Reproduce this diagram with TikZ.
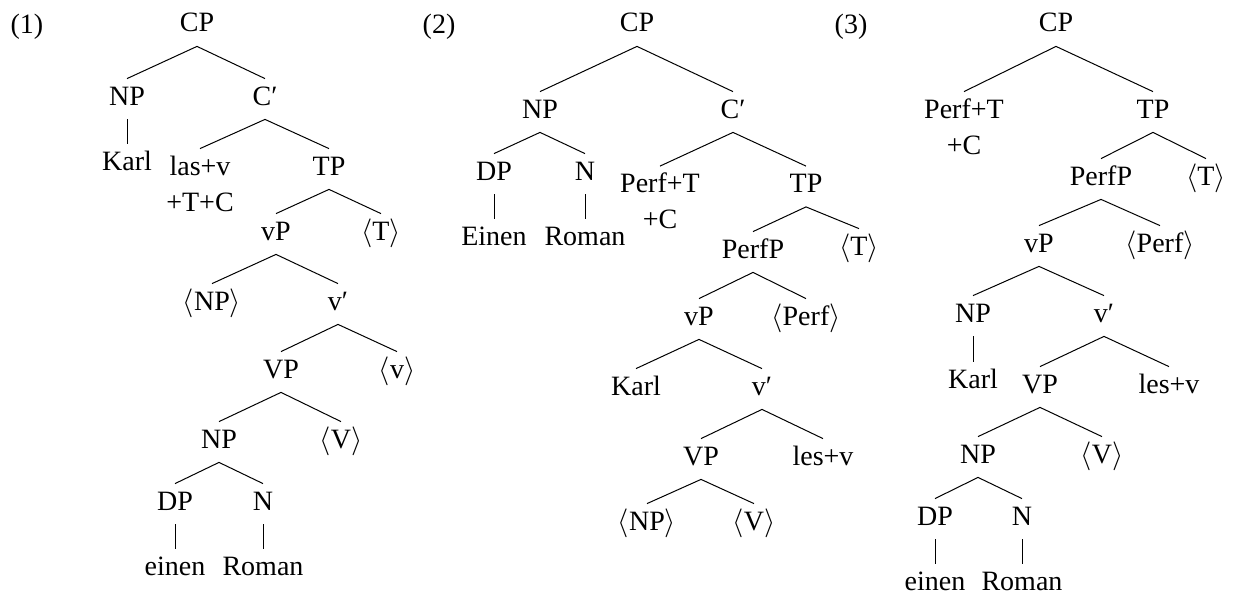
\documentclass[tikz,border=0pt]{standalone}
\usepackage{fontspec}
\setmainfont{Liberation Serif}

% head that moved up, two lines under one node
\newcommand{\catstack}[2]{\begin{tabular}[t]{@{}c@{}}#1\\#2\end{tabular}}
% trace of a moved item
\newcommand{\trc}[1]{$\langle$#1$\rangle$}

\begin{document}
\begin{tikzpicture}[
      x=0.5pt, y=-0.5pt,
      syn/.style={anchor=base, inner sep=0pt, text height=13pt, text depth=7pt, font=\fontsize{14}{18}\selectfont},
      branch/.style={line width=0.5pt}
    ]
    \useasboundingbox (0,0) rectangle (1233,594);

    % Tree (1)
    \node [syn] (a-lab) at (27,33) {(1)};
    \node [syn] (a-cp) at (197,32) {CP};
    \node [syn] (a-np) at (127,105) {NP};
    \node [syn] (a-cb) at (265,105) {C′};
    \node [syn] (a-karl) at (127,170.5) {Karl};
    \node [syn] (a-head) at (200,175) {\catstack{las+v}{+T+C}};
    \node [syn] (a-tp) at (329,175) {TP};
    \node [syn] (a-vp) at (276,240) {vP};
    \node [syn] (a-tt) at (381,240) {\trc{T}};
    \node [syn] (a-npt) at (212,310) {\trc{NP}};
    \node [syn] (a-vb) at (338,310) {v′};
    \node [syn] (a-vvp) at (281,378) {VP};
    \node [syn] (a-vt) at (397,378) {\trc{v}};
    \node [syn] (a-obj) at (219,448) {NP};
    \node [syn] (a-vvt) at (341,448) {\trc{V}};
    \node [syn] (a-dp) at (175,510) {DP};
    \node [syn] (a-n) at (263,510) {N};
    \node [syn] (a-einen) at (175,575) {einen};
    \node [syn] (a-roman) at (263,575) {Roman};

    \draw [branch] (a-cp.south) -- (a-np.north) (a-cp.south) -- (a-cb.north);
    \draw [branch] (a-np.south) -- (a-karl.north);
    \draw [branch] (a-cb.south) -- (a-head.north) (a-cb.south) -- (a-tp.north);
    \draw [branch] (a-tp.south) -- (a-vp.north) (a-tp.south) -- (a-tt.north);
    \draw [branch] (a-vp.south) -- (a-npt.north) (a-vp.south) -- (a-vb.north);
    \draw [branch] (a-vb.south) -- (a-vvp.north) (a-vb.south) -- (a-vt.north);
    \draw [branch] (a-vvp.south) -- (a-obj.north) (a-vvp.south) -- (a-vvt.north);
    \draw [branch] (a-obj.south) -- (a-dp.north) (a-obj.south) -- (a-n.north);
    \draw [branch] (a-dp.south) -- (a-einen.north) (a-n.south) -- (a-roman.north);

    % Tree (2)
    \node [syn] (b-lab) at (439,33) {(2)};
    \node [syn] (b-cp) at (637,32) {CP};
    \node [syn] (b-np) at (540,118) {NP};
    \node [syn] (b-cb) at (733,118) {C′};
    \node [syn] (b-dp) at (494,180) {DP};
    \node [syn] (b-n) at (585,180) {N};
    \node [syn] (b-einen) at (494,245) {Einen};
    \node [syn] (b-roman) at (585,245) {Roman};
    \node [syn] (b-head) at (660,192.5) {\catstack{Perf+T}{+C}};
    \node [syn] (b-tp) at (806,192.5) {TP};
    \node [syn] (b-perfp) at (753,258) {PerfP};
    \node [syn] (b-tt) at (859,255) {\trc{T}};
    \node [syn] (b-vp) at (699,325) {vP};
    \node [syn] (b-perft) at (806,325) {\trc{Perf}};
    \node [syn] (b-karl) at (636,395) {Karl};
    \node [syn] (b-vb) at (762,395) {v′};
    \node [syn] (b-vvp) at (701,465) {VP};
    \node [syn] (b-les) at (823,465) {les+v};
    \node [syn] (b-npt) at (647,530) {\trc{NP}};
    \node [syn] (b-vvt) at (754,530) {\trc{V}};

    \draw [branch] (b-cp.south) -- (b-np.north) (b-cp.south) -- (b-cb.north);
    \draw [branch] (b-np.south) -- (b-dp.north) (b-np.south) -- (b-n.north);
    \draw [branch] (b-dp.south) -- (b-einen.north) (b-n.south) -- (b-roman.north);
    \draw [branch] (b-cb.south) -- (b-head.north) (b-cb.south) -- (b-tp.north);
    \draw [branch] (b-tp.south) -- (b-perfp.north) (b-tp.south) -- (b-tt.north);
    \draw [branch] (b-perfp.south) -- (b-vp.north) (b-perfp.south) -- (b-perft.north);
    \draw [branch] (b-vp.south) -- (b-karl.north) (b-vp.south) -- (b-vb.north);
    \draw [branch] (b-vb.south) -- (b-vvp.north) (b-vb.south) -- (b-les.north);
    \draw [branch] (b-vvp.south) -- (b-npt.north) (b-vvp.south) -- (b-vvt.north);

    % Tree (3)
    \node [syn] (c-lab) at (851,33) {(3)};
    \node [syn] (c-cp) at (1056,32) {CP};
    \node [syn] (c-head) at (964,118) {\catstack{Perf+T}{+C}};
    \node [syn] (c-tp) at (1153,118) {TP};
    \node [syn] (c-perfp) at (1101,185) {PerfP};
    \node [syn] (c-tt) at (1206,185) {\trc{T}};
    \node [syn] (c-vp) at (1039,252) {vP};
    \node [syn] (c-perft) at (1160,252) {\trc{Perf}};
    \node [syn] (c-np) at (973,322) {NP};
    \node [syn] (c-vb) at (1104,322) {v′};
    \node [syn] (c-karl) at (973,388) {Karl};
    \node [syn] (c-vvp) at (1040,393) {VP};
    \node [syn] (c-les) at (1169,393) {les+v};
    \node [syn] (c-obj) at (978,463) {NP};
    \node [syn] (c-vvt) at (1102,463) {\trc{V}};
    \node [syn] (c-dp) at (935,525) {DP};
    \node [syn] (c-n) at (1022,525) {N};
    \node [syn] (c-einen) at (935,590) {einen};
    \node [syn] (c-roman) at (1022,590) {Roman};

    \draw [branch] (c-cp.south) -- (c-head.north) (c-cp.south) -- (c-tp.north);
    \draw [branch] (c-tp.south) -- (c-perfp.north) (c-tp.south) -- (c-tt.north);
    \draw [branch] (c-perfp.south) -- (c-vp.north) (c-perfp.south) -- (c-perft.north);
    \draw [branch] (c-vp.south) -- (c-np.north) (c-vp.south) -- (c-vb.north);
    \draw [branch] (c-np.south) -- (c-karl.north);
    \draw [branch] (c-vb.south) -- (c-vvp.north) (c-vb.south) -- (c-les.north);
    \draw [branch] (c-vvp.south) -- (c-obj.north) (c-vvp.south) -- (c-vvt.north);
    \draw [branch] (c-obj.south) -- (c-dp.north) (c-obj.south) -- (c-n.north);
    \draw [branch] (c-dp.south) -- (c-einen.north) (c-n.south) -- (c-roman.north);
\end{tikzpicture}
\end{document}
